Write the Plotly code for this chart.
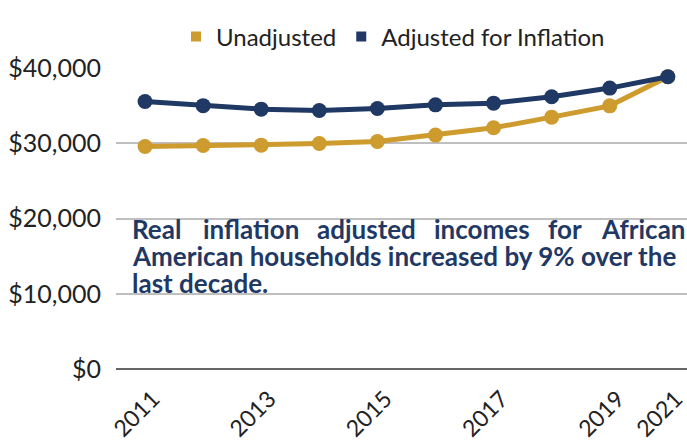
import plotly.graph_objects as go

years = ["2011", "2012", "2013", "2014", "2015", "2016", "2017", "2018", "2019", "2021"]
unadjusted = [29560, 29700, 29750, 29960, 30230, 31080, 32050, 33470, 34970, 38850]
adjusted = [35550, 35000, 34530, 34350, 34620, 35100, 35330, 36170, 37330, 38830]
tick_years = ["2011", "2013", "2015", "2017", "2019", "2021"]
y_ticks = [0, 10000, 20000, 30000, 40000]
y_labels = ["$0", "$10,000", "$20,000", "$30,000", "$40,000"]
note_line1 = ["Real", "inflation", "adjusted", "incomes", "for", "African"]
note_line2 = "American households increased by 9% over the"
note_line3 = "last decade."

GOLD = "#CD9B2E"
NAVY = "#1F3864"
FONT = "Lato"
L, R, T, B = 116, 687, 68, 369  # plot area in pixels


def px(x):
    return (x - L) / (R - L)


def py(y):
    return (B - y) / (B - T)


fig = go.Figure()
fig.add_trace(go.Scatter(x=years, y=unadjusted, mode="lines+markers", name="Unadjusted",
                         line=dict(color=GOLD, width=5), marker=dict(size=15, color=GOLD),
                         showlegend=False, cliponaxis=False))
fig.add_trace(go.Scatter(x=years, y=adjusted, mode="lines+markers", name="Adjusted for Inflation",
                         line=dict(color=NAVY, width=5), marker=dict(size=15, color=NAVY),
                         showlegend=False, cliponaxis=False))
# legend entries (square markers)
fig.add_trace(go.Scatter(x=[None], y=[None], mode="markers", name="Unadjusted",
                         marker=dict(symbol="square", size=10, color=GOLD)))
fig.add_trace(go.Scatter(x=[None], y=[None], mode="markers", name="Adjusted for Inflation",
                         marker=dict(symbol="square", size=10, color=NAVY)))

note_font = dict(family=FONT, size=26, color=NAVY)
word_x = [131, 202, 316, 433, 547, 600]
for w, xx in zip(note_line1, word_x):
    fig.add_annotation(xref="paper", yref="paper", x=px(xx), y=py(229), xanchor="left",
                       yanchor="middle", showarrow=False, text="<b>%s</b>" % w, font=note_font,
                       borderpad=0)
for txt, yy in [(note_line2, 256), (note_line3, 283)]:
    fig.add_annotation(xref="paper", yref="paper", x=px(131), y=py(yy), xanchor="left",
                       yanchor="middle", showarrow=False, text="<b>%s</b>" % txt, font=note_font,
                       borderpad=0)

fig.update_layout(
    width=687, height=442,
    margin=dict(l=L, r=687 - R, t=T, b=442 - B, autoexpand=False),
    paper_bgcolor="white", plot_bgcolor="white",
    font=dict(family=FONT, color="#222222", size=20),
    legend=dict(orientation="h", x=px(393), xanchor="center", y=py(37), yanchor="middle",
                font=dict(family=FONT, size=24, color="#222222"), itemwidth=30,
                tracegroupgap=0),
    xaxis=dict(type="category", categoryorder="array", categoryarray=years,
               range=[-0.5, 9.33], tickmode="array", tickvals=tick_years, ticktext=tick_years,
               tickangle=-45, showgrid=False, showline=False, zeroline=False, ticks="",
               ticklabelstandoff=11, ticklabelshift=8,
               automargin=False, tickfont=dict(family=FONT, size=23, color="#222222")),
    yaxis=dict(range=[0, 40000], tickmode="array", tickvals=y_ticks, ticktext=y_labels,
               showgrid=True, gridcolor="#BFBFBF", gridwidth=1.5, zeroline=True,
               zerolinecolor="#666666", zerolinewidth=1.5, ticks="", ticklen=0,
               ticklabelstandoff=14,
               automargin=False, tickfont=dict(family=FONT, size=25, color="#222222")),
)

fig.write_html("out.html", config={"displayModeBar": False},
               post_script="document.body.style.margin='0';")
